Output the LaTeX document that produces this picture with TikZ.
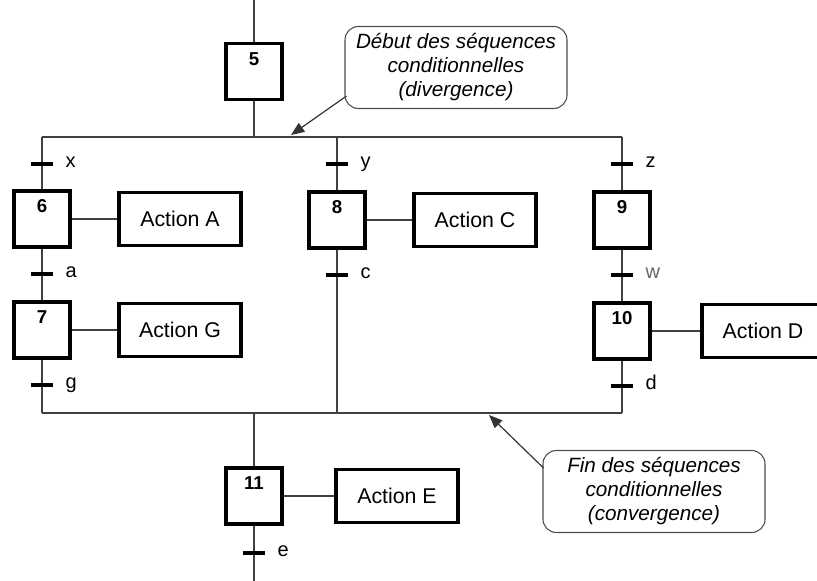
\documentclass[tikz,border=0pt]{standalone}
\usepackage{fontspec}
\setmainfont{Liberation Sans}
\usetikzlibrary{arrows.meta,calc}

\tikzset{
  wire/.style={draw=black!75, line width=0.8pt},
  stepbox/.style={draw, line width=2.4pt, minimum width=42pt, minimum height=42pt,
    inner sep=0pt, label={[num]north:#1}},
  num/.style={font=\fontsize{14}{16}\selectfont\bfseries, inner sep=0pt,
    anchor=north, yshift=-7.5pt},
  actbox/.style={draw, line width=2.4pt, minimum width=91.5pt, minimum height=39.75pt,
    inner sep=0pt, font=\fontsize{16}{19}\selectfont},
  trans/.style={fill=black, minimum width=16.5pt, minimum height=2.4pt, inner sep=0pt,
    label={[tlabel]east:#1}},
  tlabel/.style={font=\fontsize{15}{18}\selectfont, text height=1ex, text depth=0pt,
    inner sep=0pt, xshift=9pt},
  callout/.style={draw=black!70, line width=0.8pt, rounded corners=10pt,
    minimum width=166.5pt, minimum height=61.5pt, align=center,
    font=\fontsize{15.5}{18}\selectfont\itshape},
  pointer/.style={draw=black!80, line width=0.9pt, -{Triangle[length=10pt,width=8pt]}}
}

\begin{document}
\begin{tikzpicture}[x=0.75pt, y=-0.75pt]
\useasboundingbox (0,0) rectangle (817,581);

% --- steps ---
\node[stepbox=5]  (s5)  at (254,71.5) {};
\node[stepbox=6]  (s6)  at (42,219)   {};
\node[stepbox=7]  (s7)  at (42,330)   {};
\node[stepbox=8]  (s8)  at (337,220)  {};
\node[stepbox=9]  (s9)  at (622,220)  {};
\node[stepbox=10] (s10) at (622,331)  {};
\node[stepbox=11] (s11) at (254,496)  {};

% --- actions ---
\node[actbox] (aA) at (180,219) {Action A};
\node[actbox] (aG) at (180,330) {Action G};
\node[actbox] (aC) at (475,220) {Action C};
\node[actbox] (aD) at (763,331) {Action D};
\node[actbox] (aE) at (397,496) {Action E};

% --- junction points ---
\coordinate (top)   at (254,0);
\coordinate (bot)   at (254,581);
\coordinate (div5)  at (254,137);
\coordinate (divL)  at (42,137);
\coordinate (divM)  at (337,137);
\coordinate (divR)  at (622,137);
\coordinate (cvL)   at (42,413);
\coordinate (cvM)   at (337,413);
\coordinate (cvR)   at (622,413);
\coordinate (cv11)  at (254,413);

% --- flow lines ---
\draw[wire] (top) -- (s5.north);
\draw[wire] (s5.south) -- (div5);
\draw[wire] (divL) -- (divR);
\draw[wire] (divL) -- (s6.north);
\draw[wire] (s6.south) -- (s7.north);
\draw[wire] (s7.south) -- (cvL);
\draw[wire] (divM) -- (s8.north);
\draw[wire] (s8.south) -- (cvM);
\draw[wire] (divR) -- (s9.north);
\draw[wire] (s9.south) -- (s10.north);
\draw[wire] (s10.south) -- (cvR);
\draw[wire] (cvL) -- (cvR);
\draw[wire] (cv11) -- (s11.north);
\draw[wire] (s11.south) -- (bot);

% --- step to action links ---
\draw[wire] (s6.east) -- (aA.west);
\draw[wire] (s7.east) -- (aG.west);
\draw[wire] (s8.east) -- (aC.west);
\draw[wire] (s10.east) -- (aD.west);
\draw[wire] (s11.east) -- (aE.west);

% --- transitions ---
\node[trans=x] (tx) at (42,164) {};
\node[trans=a] (ta) at (42,274) {};
\node[trans=g] (tg) at (42,385) {};
\node[trans=y] (ty) at (337,164) {};
\node[trans=c] (tc) at (337,275) {};
\node[trans=z] (tz) at (622,164) {};
\node[trans={\textcolor{black!60}{w}}] (tw) at (622,275) {};
\node[trans=d] (td) at (622,386) {};
\node[trans=e] (te) at (254,553) {};

% --- comments ---
\node[callout] (cb1) at (456,67.5) {Début des séquences\\conditionnelles\\(divergence)};
\node[callout] (cb2) at (654,491.5) {Fin des séquences\\conditionnelles\\(convergence)};

\coordinate (tip1) at (291,135);
\coordinate (tip2) at (489,415);
\draw[pointer] ($(cb1.south west)+(2,-13)$) -- (tip1);
\draw[pointer] ($(cb2.north west)+(1,18)$) -- (tip2);
\end{tikzpicture}
\end{document}
